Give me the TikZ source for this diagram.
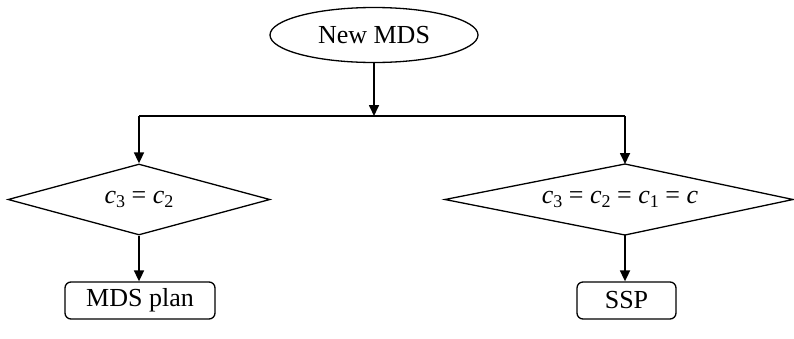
\documentclass[tikz,border=0pt]{standalone}
\usepackage{fontspec}
\setmainfont{Liberation Serif}
\usetikzlibrary{shapes.geometric,arrows.meta}
\newcommand\cvar[1]{\textit{c}\raisebox{-0.3ex}{\fontsize{18}{18}\selectfont #1}}
\tikzset{
  every node/.style={font=\fontsize{26}{30}\selectfont, text=black},
  shapeline/.style={draw=black, line width=1.3pt},
  conn/.style={draw=black, line width=1.7pt},
  arr/.style={conn, -{Triangle[width=10pt,length=11pt]}},
  startnode/.style={shapeline, ellipse, minimum width=208pt, minimum height=55pt, inner sep=0pt},
  decision/.style={shapeline, diamond, minimum width=262pt, minimum height=71pt, inner sep=0pt, aspect=3.7},
  endbox/.style={shapeline, rounded corners=6pt, minimum height=37pt, inner sep=0pt}
}
\begin{document}
\begin{tikzpicture}[x=1pt,y=-1pt]
\useasboundingbox (0,0) rectangle (794,338);
\node[startnode] (start) at (374,35) {New MDS};
\coordinate (split) at (374,116);
\coordinate (splitL) at (139,116);
\coordinate (splitR) at (625,116);
\node[decision] (d1) at (139,199.5) {\cvar{3} = \cvar{2}};
\coordinate (d2l) at (445,199.5);
\coordinate (d2t) at (625,164);
\coordinate (d2r) at (793,199.5);
\coordinate (d2b) at (625,235);
\draw[shapeline, line join=miter] (d2l) -- (d2t) -- (d2r) -- (d2b) -- cycle;
\node (d2) at (620,199.5) {\cvar{3} = \cvar{2} = \cvar{1} = \textit{c}};
\node[endbox, minimum width=150pt] (plan) at (140,300.5) {MDS plan};
\node[endbox, minimum width=99pt] (ssp) at (626.5,300.5) {SSP};
\draw[arr] (start.south) -- (split);
\draw[conn] (splitL) -- (splitR);
\draw[arr] (splitL) -- (d1.north);
\draw[arr] (splitR) -- (d2t);
\draw[arr] (d1.south) -- (d1.south |- plan.north);
\draw[arr] (d2b) -- (d2b |- ssp.north);
\end{tikzpicture}
\end{document}
